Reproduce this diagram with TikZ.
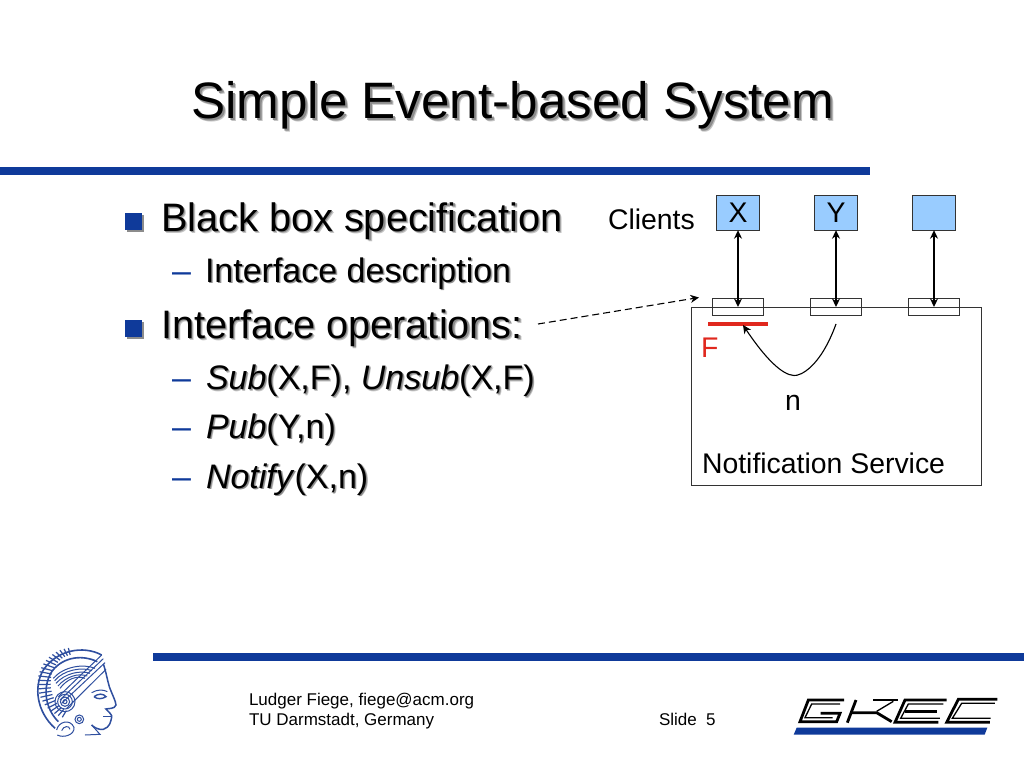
\documentclass[tikz,border=0pt]{standalone}
\usepackage{fontspec}
\setmainfont{Liberation Sans}
\usetikzlibrary{arrows.meta}
\definecolor{barblue}{HTML}{0F3A9A}
\definecolor{clientblue}{HTML}{99CCFF}
\definecolor{logoblue}{HTML}{2F4F9F}
\definecolor{shadowgray}{HTML}{8C8C8C}
\definecolor{shadowlight}{HTML}{C4C4C4}
\definecolor{redf}{HTML}{E0281E}
\newcommand{\shad}[2]{\leavevmode\rlap{\kern\dimexpr#1pt*3/2\relax\raisebox{-\dimexpr#1pt*3/2\relax}{\color{shadowlight}#2}}\rlap{\kern#1pt\raisebox{-#1pt}{\color{shadowgray}#2}}#2}
\tikzset{
  every node/.style={inner sep=0pt,outer sep=0pt},
  bar/.style={fill=barblue,draw=none},
  title/.style={anchor=base west,font=\fontsize{51.2}{51.2}\selectfont},
  lvlone/.style={anchor=base west,font=\fontsize{39.7}{39.7}\selectfont},
  lvltwo/.style={anchor=base west,font=\fontsize{34}{34}\selectfont},
  bull/.style={fill=barblue,draw=none,minimum size=17pt},
  bullshadow/.style={fill=shadowgray,draw=none,minimum size=17pt},
  diag/.style={anchor=base west,font=\fontsize{28.4}{28.4}\selectfont},
  foot/.style={anchor=base west,font=\fontsize{17}{17}\selectfont},
  client/.style={draw=black!80,fill=clientblue,line width=0.8pt,minimum width=42.6pt,minimum height=34.4pt},
  clientlabel/.style={font=\fontsize{28.4}{28.4}\selectfont},
  port/.style={draw=black!80,line width=0.8pt,minimum width=51.4pt,minimum height=17.4pt},
  tip/.style={Stealth[length=8.5pt,width=8pt]},
  link/.style={{Stealth[length=8.5pt,width=8pt]}-{Stealth[length=8.5pt,width=8pt]},line width=1.3pt},
  tu/.style={draw=logoblue,line width=1pt},
  grec/.style={draw=black,line width=1.3pt,line join=miter},
  grecthick/.style={draw=black,line width=2.8pt,line join=miter}
}
\begin{document}
\begin{tikzpicture}[x=1pt,y=-1pt]
\useasboundingbox (0,0) rectangle (1024,768);
\fill[white] (0,0) rectangle (1024,768);
% bars
\fill[bar] (0,167) rectangle (870,175);
\fill[bar] (153,653) rectangle (1024,661);
% title
\node[title] (t) at (191,118) {\shad{2}{Simple Event-based System}};
% bullets
\node[bullshadow] (b1s) at (135.5,223.5) {};
\node[bull] (b1) at (133.5,221.5) {};
\node[bullshadow] (b2s) at (135.5,330.5) {};
\node[bull] (b2) at (133.5,328.5) {};
\node[lvlone] (l1) at (161,231) {\shad{1.5}{Black box specification}};
\node[lvlone] (l2) at (161,338) {\shad{1.5}{Interface operations:}};
\node[lvltwo,text=barblue] (d1) at (172,282) {–};
\node[lvltwo,text=barblue] (d2) at (172,389.5) {–};
\node[lvltwo,text=barblue] (d3) at (172,438) {–};
\node[lvltwo,text=barblue] (d4) at (172,488) {–};
\node[lvltwo] (s1) at (205,282) {\shad{1.2}{Interface description}};
\node[lvltwo] (s2) at (206,389.5) {\shad{1.2}{\textit{Sub}(X,F), \textit{Unsub}(X,F)}};
\node[lvltwo] (s3) at (206,438) {\shad{1.2}{\textit{Pub}(Y,n)}};
\node[lvltwo] (s4) at (206,488) {\shad{1.2}{\textit{Notify}(X,n)}};
% diagram
\node[diag] (clients) at (608,229) {Clients};
\node[draw=black!80,line width=0.8pt,minimum width=290.3pt,minimum height=178.7pt,anchor=north west] (svc) at (691,307) {};
\node[client] (cx) at (738,213) {}; \node[clientlabel] (xl) at (738,212.5) {X};
\node[client] (cy) at (836,213) {}; \node[clientlabel] (yl) at (836,212.5) {Y};
\node[client] (cz) at (934,213) {};
\node[port] (px) at (738,307) {};
\node[port] (py) at (836,307) {};
\node[port] (pz) at (934,307) {};
\draw[link] (cx.south) -- (px.center);
\draw[link] (cy.south) -- (py.center);
\draw[link] (cz.south) -- (pz.center);
\coordinate (fl) at (708.3,324.3);
\coordinate (fr) at (767.7,324.3);
\draw[redf,line width=4pt] (fl) -- (fr);
\node[diag,text=redf] (f) at (701,357) {F};
\node[diag] (n) at (785,410) {n};
\node[diag] (ns) at (702,473) {Notification Service};
\coordinate (cs) at (836,324);
\coordinate (ce) at (743,325);
\draw[-{Stealth[length=8.5pt,width=8pt]},line width=1.1pt] (cs) .. controls (820,368) and (800,376) .. (794,375.5) .. controls (782,375) and (765,358) .. (ce);
\coordinate (ds) at (538,324);
\coordinate (de) at (699,297.5);
\draw[-{Stealth[length=8.5pt,width=8pt]},line width=1.1pt,dash pattern=on 7pt off 4pt] (ds) -- (de);
% footer
\node[foot] (f1) at (249,705) {Ludger Fiege, fiege@acm.org};
\node[foot] (f2) at (249,725) {TU Darmstadt, Germany};
\node[foot] (f3) at (659,725) {Slide\ \ 5};
% TU logo (zoom coordinates)
\begin{scope}[shift={(20,640)},x=0.3333pt,y=-0.3333pt]
  \draw[tu,line width=1.6pt] (245,45) .. controls (190,15) and (110,30) .. (70,90) .. controls (40,140) and (50,215) .. (105,265);
  \draw[tu,line width=1.6pt] (232,65) .. controls (180,40) and (120,55) .. (92,100) .. controls (68,145) and (75,205) .. (115,245);
  \foreach \a in {98,105,...,252} {
    \draw[tu,line width=1.2pt] ({160+68*cos(\a)},{130-86*sin(\a)}) -- ({160+107*cos(\a)},{130-107*sin(\a)});
  }
  \draw[tu,line width=1.5pt] (250,72) .. controls (258,95) and (262,120) .. (268,140) .. controls (275,160) and (288,185) .. (288,195) .. controls (285,208) and (262,205) .. (258,207) .. controls (265,215) and (278,225) .. (275,232) .. controls (272,245) and (270,262) .. (250,268) .. controls (235,270) and (222,262) .. (215,255);
  \draw[tu] (245,45) -- (115,170);
  \draw[tu] (250,56) -- (120,180);
  \draw[tu] (255,68) -- (125,190);
  \draw[tu] (258,88) -- (140,205);
  \draw[tu] (100,115) .. controls (130,80) and (190,70) .. (225,85);
  \draw[tu] (104,122) .. controls (130,90) and (185,80) .. (216,92);
  \draw[tu] (108,130) .. controls (135,100) and (180,90) .. (210,100);
  \draw[tu] (114,138) .. controls (138,110) and (175,98) .. (202,108);
  \draw[tu] (120,145) .. controls (140,118) and (170,105) .. (195,115);
  \draw[tu] (135,185) circle (30);
  \draw[tu] (135,185) circle (22);
  \draw[tu] (135,185) circle (14);
  \draw[tu] (135,185) circle (6);
  \draw[tu] (178,238) circle (13);
  \draw[tu] (178,238) circle (6);
  \draw[tu] (110,270) .. controls (115,245) and (150,235) .. (162,262) .. controls (165,285) and (130,295) .. (112,285);
  \draw[tu] (125,272) .. controls (130,258) and (148,255) .. (150,268);
  \draw[tu] (215,255) -- (240,283) -- (195,285);
  \draw[tu,line width=1.4pt] (222,170) .. controls (235,160) and (250,160) .. (258,170) .. controls (245,178) and (232,178) .. (222,170);
  \draw[tu] (215,158) .. controls (232,148) and (250,148) .. (262,155);
  \draw[tu] (250,228) -- (272,228);
\end{scope}
% GREC logo (zoom coordinates)
\begin{scope}[shift={(780,680)},x=0.3333pt,y=-0.3333pt]
  \fill[barblue] (50,143) -- (622,143) -- (614,164) -- (41,164) -- cycle;
  % G
  \draw[grecthick] (192,60) -- (85,60) -- (60,125) -- (170,125) -- (180,100) -- (122,100);
  \draw[grec] (180,72) -- (95,72) -- (75,113) -- (158,113);
  % R/K
  \draw[grecthick] (228,60) -- (202,128);
  \draw[grecthick] (212,98) -- (290,98) -- (335,125);
  \draw[grecthick] (280,60) -- (355,60);
  \draw[grec] (290,94) -- (340,64);
  % E
  \draw[grecthick] (500,60) -- (375,60) -- (345,127) -- (475,127);
  \draw[grec] (490,72) -- (385,72) -- (362,115) -- (480,115);
  \draw[grecthick] (375,94) -- (470,94);
  % C
  \draw[grecthick] (652,58) -- (535,58) -- (500,127) -- (630,127);
  \draw[grec] (645,70) -- (545,70) -- (517,115) -- (632,115);
\end{scope}
\end{tikzpicture}
\end{document}
